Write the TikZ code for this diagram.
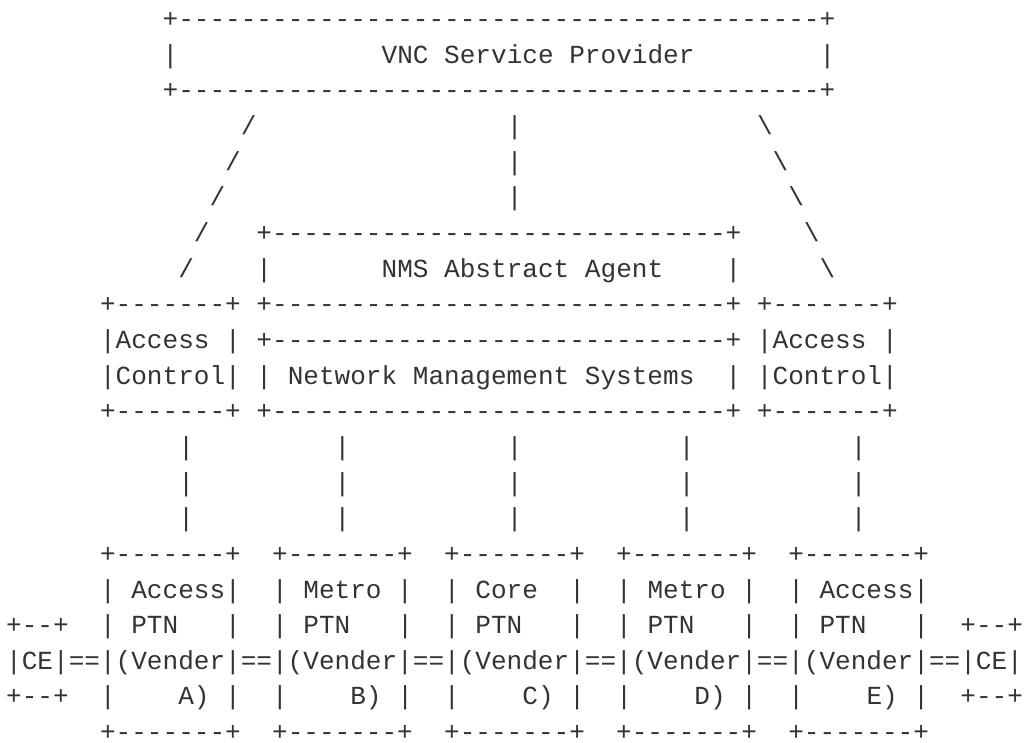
\documentclass[tikz,border=0pt]{standalone}
\usepackage{fontspec}
\setmonofont{Liberation Mono}
\usepackage{tikz}
\usetikzlibrary{positioning}

\definecolor{ink}{HTML}{333333}

% n copies of a character
\ExplSyntaxOn
\newcommand{\rep}[2]{\prg_replicate:nn{#1}{#2}}
\ExplSyntaxOff

\newcommand{\lgap}{13.675pt}

\tikzset{
  asciirow/.style={anchor=base west, inner sep=0pt, outer sep=0pt,
    font=\ttfamily\fontsize{10}{10}\selectfont, text=ink},
}

\begin{document}
\frenchspacing
\begin{tikzpicture}
	\useasboundingbox (0,0) rectangle (393.2pt,-285pt);
	% VNC service provider
	\node[asciirow] (row1) at (2.38pt,-10.6pt) {\rep{10}{~}+\rep{41}{-}+};
	\node[below=\lgap of row1.base west, asciirow] (row2) {\rep{10}{~}|\rep{13}{~}VNC Service Provider\rep{8}{~}|};
	\node[below=\lgap of row2.base west, asciirow] (row3) {\rep{10}{~}+\rep{41}{-}+};
	% links down
	\node[below=\lgap of row3.base west, asciirow] (row4) {\rep{15}{~}/\rep{16}{~}|\rep{15}{~}\textbackslash};
	\node[below=\lgap of row4.base west, asciirow] (row5) {\rep{14}{~}/\rep{17}{~}|\rep{16}{~}\textbackslash};
	\node[below=\lgap of row5.base west, asciirow] (row6) {\rep{13}{~}/\rep{18}{~}|\rep{17}{~}\textbackslash};
	% NMS abstract agent
	\node[below=\lgap of row6.base west, asciirow] (row7) {\rep{12}{~}/\rep{3}{~}+\rep{29}{-}+\rep{4}{~}\textbackslash};
	\node[below=\lgap of row7.base west, asciirow] (row8) {\rep{11}{~}/\rep{4}{~}|\rep{7}{~}NMS Abstract Agent\rep{4}{~}|\rep{5}{~}\textbackslash};
	% access control + NMS
	\node[below=\lgap of row8.base west, asciirow] (row9) {\rep{6}{~}+\rep{7}{-}+~+\rep{29}{-}+~+\rep{7}{-}+};
	\node[below=\lgap of row9.base west, asciirow] (row10) {\rep{6}{~}|Access~|~+\rep{29}{-}+~|Access~|};
	\node[below=\lgap of row10.base west, asciirow] (row11) {\rep{6}{~}|Control|~|~Network Management Systems~~|~|Control|};
	\node[below=\lgap of row11.base west, asciirow] (row12) {\rep{6}{~}+\rep{7}{-}+~+\rep{29}{-}+~+\rep{7}{-}+};
	% links to PTN
	\node[below=\lgap of row12.base west, asciirow] (row13) {\rep{11}{~}|\rep{9}{~}|\rep{10}{~}|\rep{10}{~}|\rep{10}{~}|};
	\node[below=\lgap of row13.base west, asciirow] (row14) {\rep{11}{~}|\rep{9}{~}|\rep{10}{~}|\rep{10}{~}|\rep{10}{~}|};
	\node[below=\lgap of row14.base west, asciirow] (row15) {\rep{11}{~}|\rep{9}{~}|\rep{10}{~}|\rep{10}{~}|\rep{10}{~}|};
	% PTN domains
	\node[below=\lgap of row15.base west, asciirow] (row16) {\rep{6}{~}+\rep{7}{-}+~~+\rep{7}{-}+~~+\rep{7}{-}+~~+\rep{7}{-}+~~+\rep{7}{-}+};
	\node[below=\lgap of row16.base west, asciirow] (row17) {\rep{6}{~}|~Access|~~|~Metro~|~~|~Core~~|~~|~Metro~|~~|~Access|};
	\node[below=\lgap of row17.base west, asciirow] (row18) {+\rep{2}{-}+~~|~PTN~~~|~~|~PTN~~~|~~|~PTN~~~|~~|~PTN~~~|~~|~PTN~~~|~~+\rep{2}{-}+};
	\node[below=\lgap of row18.base west, asciirow] (row19) {|CE|==|(Vender|==|(Vender|==|(Vender|==|(Vender|==|(Vender|==|CE|};
	\node[below=\lgap of row19.base west, asciirow] (row20) {+\rep{2}{-}+~~|~~~~A)~|~~|~~~~B)~|~~|~~~~C)~|~~|~~~~D)~|~~|~~~~E)~|~~+\rep{2}{-}+};
	\node[below=\lgap of row20.base west, asciirow] (row21) {\rep{6}{~}+\rep{7}{-}+~~+\rep{7}{-}+~~+\rep{7}{-}+~~+\rep{7}{-}+~~+\rep{7}{-}+};
\end{tikzpicture}
\end{document}
